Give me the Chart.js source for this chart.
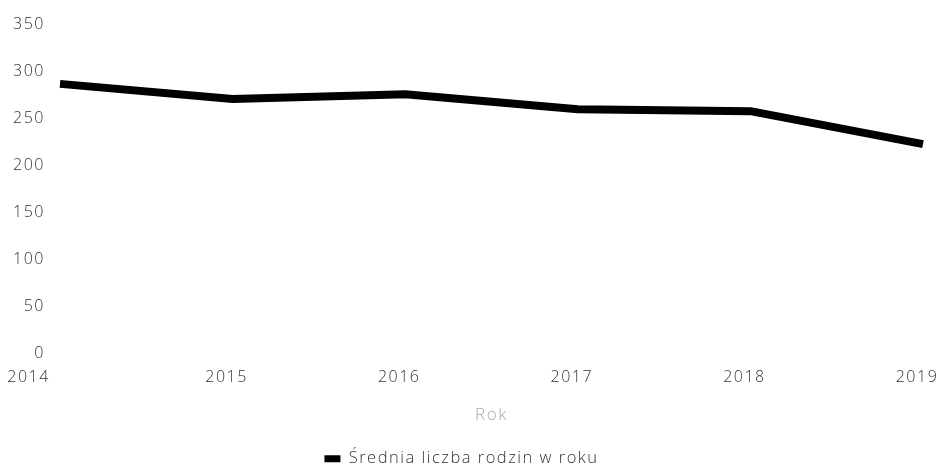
<!DOCTYPE html>
<html lang="pl">
<head>
  <meta charset="UTF-8" />
  <title>Średnia liczba rodzin w roku</title>
  <script src="https://cdn.jsdelivr.net/npm/chart.js"></script>
  <style>
    html, body {
      margin: 0;
      padding: 0;
      background: #fff;
    }
    .chart-wrapper {
      width: 948px;
      height: 467px;
    }
  </style>
</head>
<body>
  <div class="chart-wrapper">
    <canvas id="familyChart"></canvas>
  </div>

  <script>
    const years = ['2014', '2015', '2016', '2017', '2018', '2019'];
    const avgFamilies = [287, 271, 276, 260, 258, 223];
    const yTicks = [0, 50, 100, 150, 200, 250, 300, 350];

    const seriesLabel = 'Średnia liczba rodzin w roku';
    const axisTitle = 'Rok';

    // slightly wider lettering for all canvas text
    const spacing = {
      id: 'spacing',
      beforeUpdate(chart) { chart.ctx.letterSpacing = '1.5px'; },
      beforeDraw(chart) { chart.ctx.letterSpacing = '1.5px'; }
    };

    const ctx = document.getElementById('familyChart').getContext('2d');

    new Chart(ctx, {
      type: 'line',
      data: {
        labels: years,
        datasets: [{
          label: seriesLabel,
          data: avgFamilies,
          borderColor: '#000',
          backgroundColor: '#000',
          borderWidth: 8,
          borderJoinStyle: 'round',
          borderCapStyle: 'butt',
          pointRadius: 0,
          pointHoverRadius: 0,
          tension: 0,
          fill: false
        }]
      },
      options: {
        responsive: true,
        maintainAspectRatio: false,
        animation: false,
        layout: {
          padding: { top: 5, right: 25, left: 0, bottom: -10 }
        },
        plugins: {
          tooltip: { enabled: false },
          legend: {
            position: 'bottom',
            labels: {
              color: '#333',
              boxWidth: 16,
              boxHeight: 7,
              padding: 6,
              font: { family: "'Open Sans', sans-serif", size: 16.5, weight: '300' },
              // plain filled box, no thick outline from the line width
              generateLabels(chart) {
                return Chart.defaults.plugins.legend.labels.generateLabels(chart)
                  .map(item => ({ ...item, lineWidth: 0 }));
              }
            }
          }
        },
        scales: {
          x: {
            grid: { display: false, drawTicks: false },
            border: { display: false },
            afterFit(scale) {
              scale.paddingLeft = 0;
              scale.paddingRight = 0;
            },
            ticks: {
              color: '#333',
              padding: 14,
              labelOffset: -6,
              maxRotation: 0,
              font: { family: "'Open Sans', sans-serif", size: 16, weight: '300' },
              // the first year sits further left, under the zero label
              callback: function (value, index) {
                const label = this.getLabelForValue(value);
                return index === 0 ? label + '         ' : label;
              }
            },
            title: {
              display: true,
              text: axisTitle,
              color: '#aaa',
              padding: { top: 4, bottom: 19 },
              font: { family: "'Open Sans', sans-serif", size: 17, weight: '300' }
            }
          },
          y: {
            min: 0,
            max: 350,
            grid: { display: false, drawTicks: false },
            border: { display: false },
            afterFit(scale) { scale.width = 60; },
            afterBuildTicks(scale) {
              scale.ticks = yTicks.map(v => ({ value: v }));
            },
            ticks: {
              color: '#333',
              padding: 15,
              font: { family: "'Open Sans', sans-serif", size: 16, weight: '300' }
            }
          }
        }
      },
      plugins: [spacing]
    });
  </script>
</body>
</html>
